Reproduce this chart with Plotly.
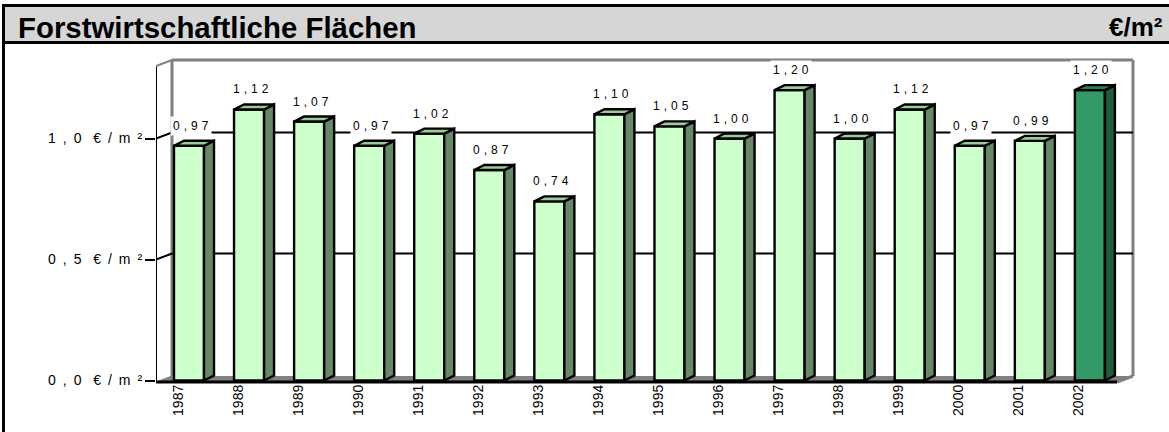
import plotly.graph_objects as go

years = list(range(1987, 2003))
prices = [0.97, 1.12, 1.07, 0.97, 1.02, 0.87, 0.74, 1.10, 1.05, 1.00, 1.20, 1.00, 1.12, 0.97, 0.99, 1.20]
value_ticks = [0.0, 0.5, 1.0]
title_text = "Forstwirtschaftliche Flächen"
unit_text = "€/m²"

EN = "\u2002"
THIRD = "\u2004"
W, H = 1169, 432
PX_PER_CAT = 60.06
PX_PER_UNIT = 242.0
X0_PX = 189.0      # pixel column of category 0
Y0_PX = 380.5      # pixel row of value 0


def cat(px):
    return (px - X0_PX) / PX_PER_CAT


def val(px):
    return (Y0_PX - px) / PX_PER_UNIT


plot_l, plot_r, plot_t, plot_b = 156, 1140, 55, 384
x_range = [cat(plot_l), cat(plot_r)]
y_range = [val(plot_b), val(plot_t)]


def px_paper_x(px):
    return (px - plot_l) / (plot_r - plot_l)


def px_paper_y(px):
    return (plot_b - px) / (plot_b - plot_t)


# oblique depth of the chart box and of a single column
wall_dx, wall_dy = 16 / PX_PER_CAT, 6 / PX_PER_UNIT
bar_dx, bar_dy = 10 / PX_PER_CAT, 5 / PX_PER_UNIT
half = 0.25
xl, xr = cat(156), cat(1117)
y_floor, y_top = val(382), val(66)

shapes = []


def seg(x0, y0, x1, y1, color, width):
    shapes.append(dict(type="line", x0=x0, y0=y0, x1=x1, y1=y1, layer="below",
                       line=dict(color=color, width=width)))


# floor
shapes.append(dict(type="path", layer="below", fillcolor="#808080", line=dict(width=0),
                   path=f"M{xl},{y_floor} L{xr},{y_floor} L{xr+wall_dx},{y_floor+wall_dy} L{xl+wall_dx},{y_floor+wall_dy} Z"))
# back wall outline
GREY = "#808080"
seg(xl + wall_dx, y_floor + wall_dy, xl + wall_dx, y_top + wall_dy, GREY, 3)
seg(xl + wall_dx, y_top + wall_dy, xr + wall_dx, y_top + wall_dy, GREY, 3)
seg(xr + wall_dx, y_top + wall_dy, xr + wall_dx, y_floor + wall_dy, GREY, 3)
seg(xr + wall_dx, y_floor + wall_dy, xr, y_floor, GREY, 3)
# gridlines on the back wall, joined to the front axis
for v in value_ticks[1:]:
    seg(xl + wall_dx, v + wall_dy, xr + wall_dx, v + wall_dy, "black", 2)
    seg(xl, v, xl + wall_dx, v + wall_dy, "black", 2)
# front edges
seg(xl, y_floor, xl, y_top, "black", 2)
seg(xl, y_top, xl + wall_dx, y_top + wall_dy, GREY, 2)
seg(xl, y_floor, xl + wall_dx, y_floor + wall_dy, GREY, 1)
seg(xl, y_floor, xr, y_floor, "black", 3)

# header band and frame
shapes += [
    dict(type="rect", xref="paper", yref="paper", layer="below", fillcolor="#D6D6D6", line=dict(width=0),
         x0=px_paper_x(2), x1=px_paper_x(W), y0=px_paper_y(43), y1=px_paper_y(5)),
    dict(type="rect", xref="paper", yref="paper", layer="above", fillcolor="black", line=dict(width=0),
         x0=px_paper_x(2), x1=px_paper_x(W), y0=px_paper_y(7), y1=px_paper_y(4)),
    dict(type="rect", xref="paper", yref="paper", layer="above", fillcolor="black", line=dict(width=0),
         x0=px_paper_x(2), x1=px_paper_x(W), y0=px_paper_y(44), y1=px_paper_y(41)),
    dict(type="rect", xref="paper", yref="paper", layer="above", fillcolor="black", line=dict(width=0),
         x0=px_paper_x(2), x1=px_paper_x(5), y0=px_paper_y(H), y1=px_paper_y(4)),
]


def faces(indices):
    side_x, side_y, top_x, top_y = [], [], [], []
    for i in indices:
        v = prices[i]
        r = i + half
        l = i - half
        side_x += [r, r, r + bar_dx, r + bar_dx, r, None]
        side_y += [0, v, v + bar_dy, bar_dy, 0, None]
        top_x += [l, r, r + bar_dx, l + bar_dx, l, None]
        top_y += [v, v, v + bar_dy, v + bar_dy, v, None]
    return side_x, side_y, top_x, top_y


def face_trace(xs, ys, color):
    return go.Scatter(x=xs, y=ys, mode="lines", fill="toself", fillcolor=color,
                      line=dict(color="black", width=2.4), hoverinfo="skip", showlegend=False)


plain = list(range(len(years) - 1))
accent = [len(years) - 1]

fig = go.Figure()
bar_colors = ["#CCFFCC"] * len(plain) + ["#339966"]
fig.add_trace(go.Bar(x=list(range(len(years))), y=prices, width=2 * half,
                     marker=dict(color=bar_colors, line=dict(color="black", width=2.4)),
                     showlegend=False))
for group, side_c, top_c in [(plain, "#668866", "#99CC99"), (accent, "#1E5C3D", "#2A7F55")]:
    sx, sy, tx, ty = faces(group)
    fig.add_trace(face_trace(sx, sy, side_c))
    fig.add_trace(face_trace(tx, ty, top_c))

annotations = []
for i, v in enumerate(prices):
    annotations.append(dict(x=i + 1.5 / PX_PER_CAT, y=v + 20 / PX_PER_UNIT, xref="x", yref="y",
                            text=THIRD.join(f"{v:.2f}".replace(".", ",")), showarrow=False,
                            font=dict(family="Liberation Sans", size=12, color="black"),
                            bgcolor="white", borderpad=2))
annotations.append(dict(x=px_paper_x(16), y=px_paper_y(27), xref="paper", yref="paper", xanchor="left",
                        yanchor="middle", text=f"<b>{title_text}</b>", showarrow=False,
                        font=dict(family="Liberation Sans", size=29.4, color="black")))
annotations.append(dict(x=px_paper_x(1165), y=px_paper_y(27), xref="paper", yref="paper", xanchor="right",
                        yanchor="middle", text=f"<b>{unit_text}</b>", showarrow=False,
                        font=dict(family="Liberation Sans", size=26, color="black")))

fig.update_layout(
    width=W, height=H, autosize=False,
    margin=dict(l=plot_l, r=W - plot_r, t=plot_t, b=H - plot_b, pad=0),
    paper_bgcolor="white", plot_bgcolor="white", showlegend=False,
    shapes=shapes, annotations=annotations,
    xaxis=dict(range=x_range, showgrid=False, zeroline=False, showline=False, ticks="",
               tickmode="array", tickvals=[i - 11 / PX_PER_CAT for i in range(len(years))],
               ticktext=[str(y) for y in years], tickangle=-90, ticklabelstandoff=-3,
               tickfont=dict(family="Liberation Sans", size=14, color="black")),
    yaxis=dict(range=y_range, showgrid=False, zeroline=False, showline=False,
               ticks="outside", ticklen=10, tickwidth=1.6, tickcolor="black",
               tickmode="array", tickvals=value_ticks,
               ticktext=[EN.join(f"{v:.1f}".replace(".", ",")) + EN + THIRD + EN.join("€/m²") for v in value_ticks],
               tickfont=dict(family="Liberation Sans", size=14, color="black")),
)

fig.write_html("out.html")
